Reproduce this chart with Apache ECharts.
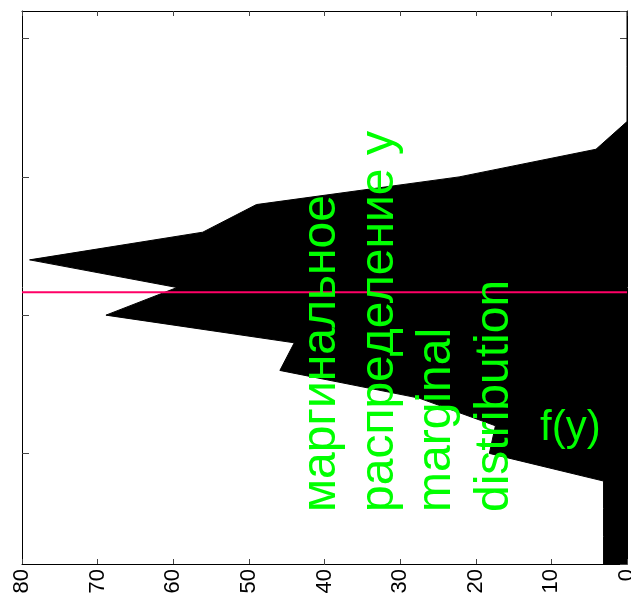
<!DOCTYPE html>
<html>
<head>
<meta charset="utf-8">
<script src="https://cdn.jsdelivr.net/npm/echarts@6/dist/echarts.min.js"></script>
<style>
  html, body { margin: 0; padding: 0; background: #fff; }
  #chart { width: 631px; height: 599px; }
</style>
</head>
<body>
<div id="chart"></div>
<script>
// y levels (bottom to top), the axis is unlabelled
const yLevels = [-4, -3, -2, -1, 0, 1, 2, 3, 4, 5, 6, 7, 8, 9, 10, 11, 12, 13, 14, 15, 16];
// f(y) at each level
const fValues = [3.1, 3.1, 3.1, 3.1, 18.2, 17.4, 27.5, 45.9, 44.0, 68.9, 59.5, 79.0, 56.1, 49.0, 22.2, 4.1, 0, 0, 0, 0, 0];
const xTicks = [0, 80, 10]; // min, max, step
const yRange = [-4, 16];
const markY = 5.83;
const textLines = ['маргинальное', 'распределение y', 'marginal', 'distribution'];
const fLabel = 'f(y)';

const chart = echarts.init(document.getElementById('chart'), null, { renderer: 'canvas' });

const axisLine = { show: true, onZero: false, lineStyle: { color: '#000', width: 1 } };

chart.setOption({
  animation: false,
  backgroundColor: '#fff',
  grid: { left: 22, right: 4, top: 11, bottom: 35, containLabel: false, outerBoundsMode: 'none' },
  xAxis: [{
    type: 'value', position: 'bottom', inverse: true,
    min: xTicks[0], max: xTicks[1], interval: xTicks[2],
    axisLine: axisLine,
    axisTick: { show: true, inside: true, length: 5, lineStyle: { color: '#444' } },
    axisLabel: { rotate: 90, margin: 5, fontSize: 22, color: '#000', fontFamily: 'Liberation Sans' },
    splitLine: { show: false }
  }, {
    type: 'value', position: 'top', inverse: true,
    min: xTicks[0], max: xTicks[1], interval: xTicks[2],
    axisLine: axisLine,
    axisTick: { show: true, inside: true, length: 5, lineStyle: { color: '#444' } },
    axisLabel: { show: false },
    splitLine: { show: false }
  }],
  yAxis: [{
    type: 'category', position: 'left', boundaryGap: false,
    data: yLevels.map(String),
    axisLine: axisLine,
    axisTick: { show: true, inside: true, length: 7, interval: (i) => i % 5 === 4, lineStyle: { color: '#444' } },
    axisLabel: { show: false },
    splitLine: { show: false }
  }, {
    type: 'value', position: 'right',
    min: yRange[0], max: yRange[1], splitNumber: 4,
    axisLine: axisLine,
    axisTick: { show: true, inside: true, length: 7, lineStyle: { color: '#444' } },
    axisLabel: { show: false },
    splitLine: { show: false }
  }],
  series: [{
    type: 'line',
    xAxisIndex: 0, yAxisIndex: 0,
    data: fValues,
    symbol: 'none',
    lineStyle: { color: '#000', width: 1 },
    areaStyle: { color: '#000', opacity: 1 },
    silent: true
  }, {
    type: 'line',
    xAxisIndex: 1, yAxisIndex: 1,
    data: [[xTicks[0], markY], [xTicks[1], markY]],
    symbol: 'none',
    lineStyle: { color: '#ff0066', width: 2 },
    silent: true
  }],
  graphic: [{
    type: 'text',
    x: 293, y: 512,
    rotation: Math.PI / 2,
    z: 100,
    style: {
      text: textLines.join('\n'),
      font: '48px "Liberation Sans"',
      lineHeight: 57.6,
      fill: '#00ff00',
      align: 'left',
      verticalAlign: 'top'
    }
  }, {
    type: 'text',
    x: 540, y: 428,
    z: 100,
    style: {
      text: fLabel,
      font: '42px "Liberation Sans"',
      fill: '#00ff00',
      align: 'left',
      verticalAlign: 'middle'
    }
  }]
});
</script>
</body>
</html>
